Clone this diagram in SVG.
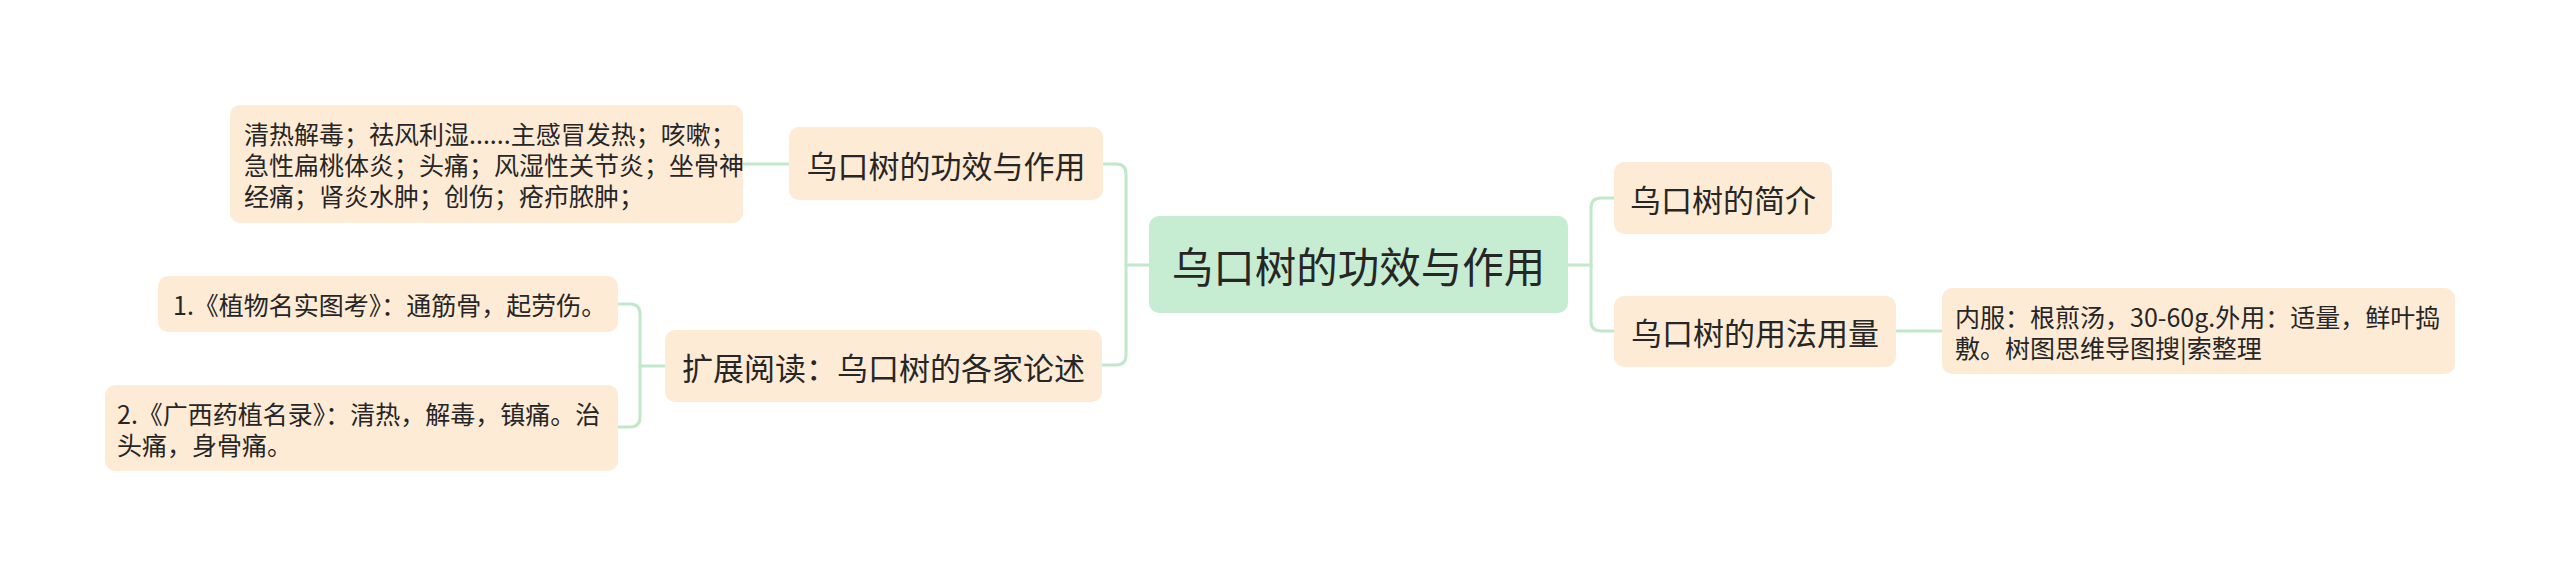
<svg xmlns="http://www.w3.org/2000/svg" width="2560" height="576" viewBox="0 0 2560 576">
<style>
text{font-family:"Noto Sans CJK SC","Noto Sans",sans-serif;fill:#262626;dominant-baseline:central}
.n{fill:#feebd6}
.c{fill:#c6ecd1}
.t1{font-size:41.5px;text-anchor:middle}
.t2{font-size:31px;text-anchor:middle}
.t3{font-size:25px}
.ln{fill:none;stroke:#c2e8cb;stroke-width:3;stroke-linecap:round}
</style>
<rect width="2560" height="576" fill="#ffffff"/>
<g id="connectors">
<path class="ln" d="M1149 265 H1126"/>
<path class="ln" d="M1126 265 V174 Q1126 164 1116 164 H1103"/>
<path class="ln" d="M1126 265 V355 Q1126 365 1116 365 H1103"/>
<path class="ln" d="M1568 265 H1591"/>
<path class="ln" d="M1591 265 V208 Q1591 198 1601 198 H1614"/>
<path class="ln" d="M1591 265 V321 Q1591 331 1601 331 H1614"/>
<path class="ln" d="M789 164 H743"/>
<path class="ln" d="M665 366 H640"/>
<path class="ln" d="M640 366 V314 Q640 304 630 304 H618"/>
<path class="ln" d="M640 366 V417 Q640 427 630 427 H618"/>
<path class="ln" d="M1896 331 H1942"/>
</g>
<g id="center">
<rect class="c" x="1149" y="216" width="419" height="97" rx="10"/>
<text class="t1" x="1358.5" y="265">乌口树的功效与作用</text>
</g>
<g id="n1">
<rect class="n" x="789" y="127" width="314" height="73" rx="10"/>
<text class="t2" x="946" y="164">乌口树的功效与作用</text>
</g>
<g id="n2">
<rect class="n" x="665" y="330" width="437" height="72" rx="10"/>
<text class="t2" x="883.5" y="366">扩展阅读：乌口树的各家论述</text>
</g>
<g id="n3">
<rect class="n" x="1614" y="162" width="218" height="72" rx="10"/>
<text class="t2" x="1723" y="198">乌口树的简介</text>
</g>
<g id="n4">
<rect class="n" x="1614" y="296" width="282" height="71" rx="10"/>
<text class="t2" x="1755" y="331">乌口树的用法用量</text>
</g>
<g id="l1">
<rect class="n" x="230" y="105" width="513" height="118" rx="10"/>
<text class="t3" x="244" y="133">清热解毒；祛风利湿......主感冒发热；咳嗽；</text>
<text class="t3" x="244" y="164">急性扁桃体炎；头痛；风湿性关节炎；坐骨神</text>
<text class="t3" x="244" y="195">经痛；肾炎水肿；创伤；疮疖脓肿；</text>
</g>
<g id="l2a">
<rect class="n" x="158" y="276" width="460" height="56" rx="10"/>
<text class="t3" x="173" y="304">1.《植物名实图考》：通筋骨，起劳伤。</text>
</g>
<g id="l2b">
<rect class="n" x="105" y="385" width="513" height="86" rx="10"/>
<text class="t3" x="117" y="413">2.《广西药植名录》：清热，解毒，镇痛。治</text>
<text class="t3" x="117" y="444">头痛，身骨痛。</text>
</g>
<g id="l4">
<rect class="n" x="1942" y="288" width="513" height="86" rx="10"/>
<text class="t3" x="1955" y="316">内服：根煎汤，30-60g.外用：适量，鲜叶捣</text>
<text class="t3" x="1955" y="347">敷。树图思维导图搜|索整理</text>
</g>
</svg>
